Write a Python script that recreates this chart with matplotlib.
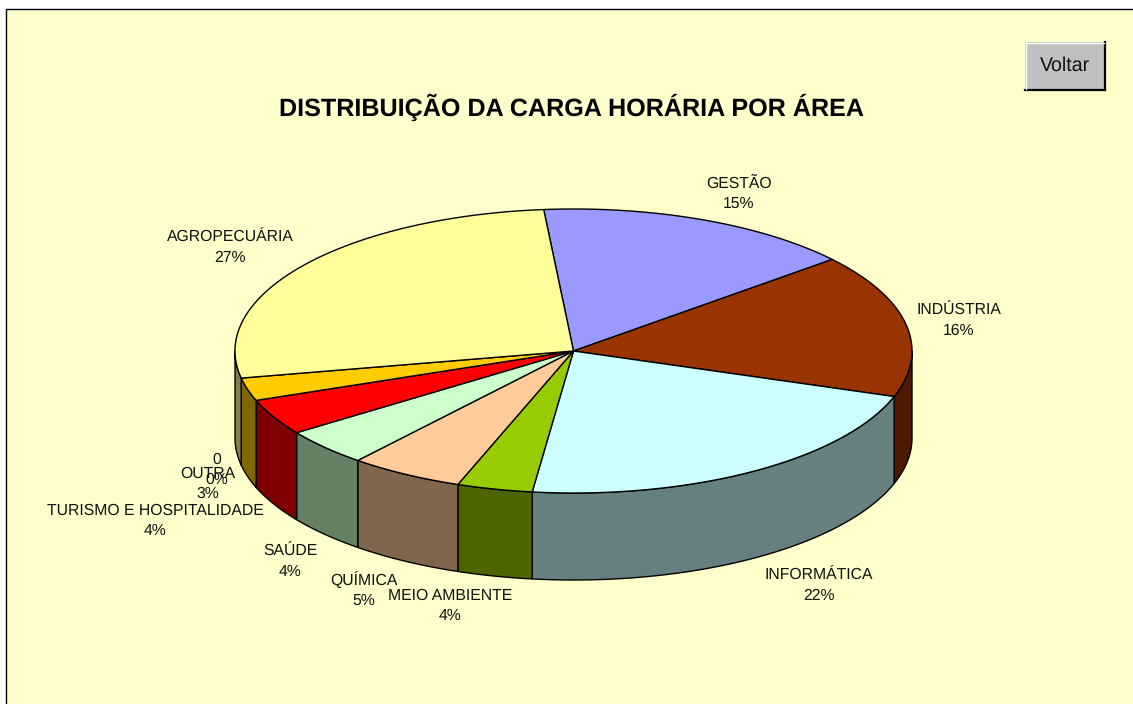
import numpy as np
import matplotlib
matplotlib.use('Agg')
import matplotlib.pyplot as plt
from matplotlib.patches import Rectangle

plt.rcParams['font.family'] = ['Liberation Sans', 'DejaVu Sans']
plt.rcParams['text.hinting'] = 'none'

# slices, clockwise from the top of the pie
areas = ['GESTÃO', 'INDÚSTRIA', 'INFORMÁTICA', 'MEIO AMBIENTE', 'QUÍMICA',
         'SAÚDE', 'TURISMO E HOSPITALIDADE', 'OUTRA', '0', 'AGROPECUÁRIA']
shares = [15.25, 16.35, 21.75, 3.6, 5.45, 4.25, 4.1, 2.6, 0.0, 26.65]
colors = ['#9999FF', '#993300', '#CCFFFF', '#99CC00', '#FFCC99',
          '#CCFFCC', '#FF0000', '#FFCC00', '#FFFFFF', '#FFFF99']
title = 'DISTRIBUIÇÃO DA CARGA HORÁRIA POR ÁREA'

# label anchors in pixels (baseline of the name line)
label_xy = [(739, 187.5), (959, 314.5), (819, 579.5), (450, 599.5), (364, 584.5),
            (290, 555.5), (155, 514.5), (208, 477.5), (217, 463.5), (230, 241.5)]

cx, cy, rx, ry, depth = 573.5, 351, 338.5, 142, 87
start = -5.05

fig = plt.figure(figsize=(11.33, 7.04), dpi=100, facecolor='white')
ax = fig.add_axes([0, 0, 1, 1])
ax.set_xlim(0, 1133)
ax.set_ylim(704, 0)
ax.axis('off')

ax.add_patch(Rectangle((5.5, 9), 1200, 800, fc='#FFFFCC', ec='black', lw=1.0))


def rim(a, b, dz=0):
    t = np.radians(np.linspace(a, b, max(int(abs(b - a) * 2), 2)))
    return cx + rx * np.sin(t), cy - ry * np.cos(t) + dz


def shade(c):
    return tuple(v * 0.5 for v in matplotlib.colors.to_rgb(c))


edges = start + np.concatenate([[0], np.cumsum(shares)]) * 3.6

# side walls, only the front half of the rim shows
for a, b, c in zip(edges[:-1], edges[1:], colors):
    lo, hi = max(a, 90), min(b, 270)
    if hi <= lo:
        continue
    x1, y1 = rim(lo, hi)
    x2, y2 = rim(hi, lo, depth)
    ax.fill(np.r_[x1, x2], np.r_[y1, y2], fc=shade(c), ec='black', lw=1.0, joinstyle='round')

# top faces
for a, b, c in zip(edges[:-1], edges[1:], colors):
    if b - a <= 0:
        continue
    x, y = rim(a, b)
    ax.fill(np.r_[cx, x], np.r_[cy, y], fc=c, ec='black', lw=1.0, joinstyle='round')

for name, val, (lx, ly) in zip(areas, shares, label_xy):
    ax.text(lx, ly, name, ha='center', va='baseline', fontsize=11.35, color='#111111')
    ax.text(lx, ly + 20, '%d%%' % round(val), ha='center', va='baseline', fontsize=11.35, color='#111111')

ax.text(572, 115.5, title, ha='center', va='baseline', fontsize=18.08, fontweight='bold', color='black')

# Voltar button
ax.add_patch(Rectangle((1025, 42), 80, 48, fc='#C0C0C0', ec='none'))
ax.plot([1104.5, 1104.5], [42, 90], color='black', lw=1.6)
ax.plot([1025, 1105], [89.5, 89.5], color='black', lw=1.6)
ax.plot([1025.5, 1025.5], [42, 89], color='white', lw=1.0)
ax.plot([1025, 1104], [42.5, 42.5], color='white', lw=1.0)
ax.text(1065, 71, 'Voltar', ha='center', va='baseline', fontsize=14.1, color='#111111')

fig.savefig('out.png', dpi=100, facecolor='white')
